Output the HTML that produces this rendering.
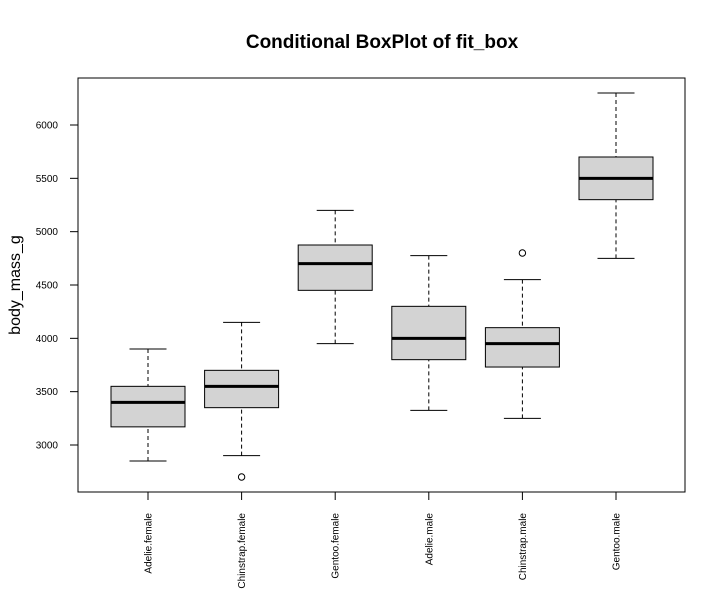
<!DOCTYPE html>
<html><head><meta charset="utf-8"><style>
body{margin:0;background:#fff;}
svg{display:block;font-family:"Liberation Sans",Arial,sans-serif;}
</style></head><body>
<svg id="chart" width="726" height="590">
<text x="382" y="48" text-anchor="middle" font-size="19" font-weight="bold">Conditional BoxPlot of fit_box</text>
<rect x="78" y="78" width="607" height="414" fill="none" stroke="#000"/>
<text transform="translate(20,285) rotate(-90)" text-anchor="middle" font-size="16">body_mass_g</text>
<g id="g"></g>
</svg>
<script>
const categories=["Adelie.female","Chinstrap.female","Gentoo.female","Adelie.male","Chinstrap.male","Gentoo.male"];
const lowWhisker=[2850,2900,3950,3325,3250,4750];
const q1=[3170,3350,4450,3800,3731,5300];
const medians=[3400,3550,4700,4000,3950,5500];
const q3=[3550,3700,4875,4300,4100,5700];
const highWhisker=[3900,4150,5200,4775,4550,6300];
const outliers=[[],[2700],[],[],[4800],[]];
const yTicks=[3000,3500,4000,4500,5000,5500,6000];
const NS="http://www.w3.org/2000/svg";
const g=document.getElementById('g');
function y(v){return 445-(v-3000)*320/3000;}
function x(i){return 148+i*93.6;}
function mk(t,a){const e=document.createElementNS(NS,t);for(const k in a)e.setAttribute(k,a[k]);g.appendChild(e);return e;}
yTicks.forEach(v=>{
 let l=mk('line',{x1:70,x2:78,y1:y(v),y2:y(v),stroke:'#000'});
 
 
 let t=mk('text',{x:58,y:y(v)+3.5,'text-anchor':'end','font-size':10});
 t.textContent=v;
 
 
});
categories.forEach((c,i)=>{
 const cx=x(i),hw=37,cw=18.5;
 let tk=mk('line',{x1:cx,x2:cx,y1:492,y2:500,stroke:'#000'});
 
 
 let t=mk('text',{transform:`translate(${cx+3.5},513) rotate(-90)`,'text-anchor':'end','font-size':10});
 t.textContent=c;
 
 
 let w1=mk('line',{x1:cx,x2:cx,y1:y(lowWhisker[i]),y2:y(q1[i]),stroke:'#000','stroke-dasharray':'4,3'});
 
 
 let w2=mk('line',{x1:cx,x2:cx,y1:y(highWhisker[i]),y2:y(q3[i]),stroke:'#000','stroke-dasharray':'4,3'});
 
 
 let c1=mk('line',{x1:cx-cw,x2:cx+cw,y1:y(lowWhisker[i]),y2:y(lowWhisker[i]),stroke:'#000'});
 
 
 let c2=mk('line',{x1:cx-cw,x2:cx+cw,y1:y(highWhisker[i]),y2:y(highWhisker[i]),stroke:'#000'});
 
 
 let b=mk('rect',{x:cx-hw,y:y(q3[i]),width:2*hw,height:y(q1[i])-y(q3[i]),fill:'#d3d3d3',stroke:'#000'});
 
 
 let m=mk('line',{x1:cx-hw,x2:cx+hw,y1:y(medians[i]),y2:y(medians[i]),stroke:'#000','stroke-width':3});
 
 
 outliers[i].forEach(o=>{
  let p=mk('circle',{cx:cx,cy:y(o),r:3.2,fill:'none',stroke:'#000'});
  
  
 });
});
</script>
</body></html>
